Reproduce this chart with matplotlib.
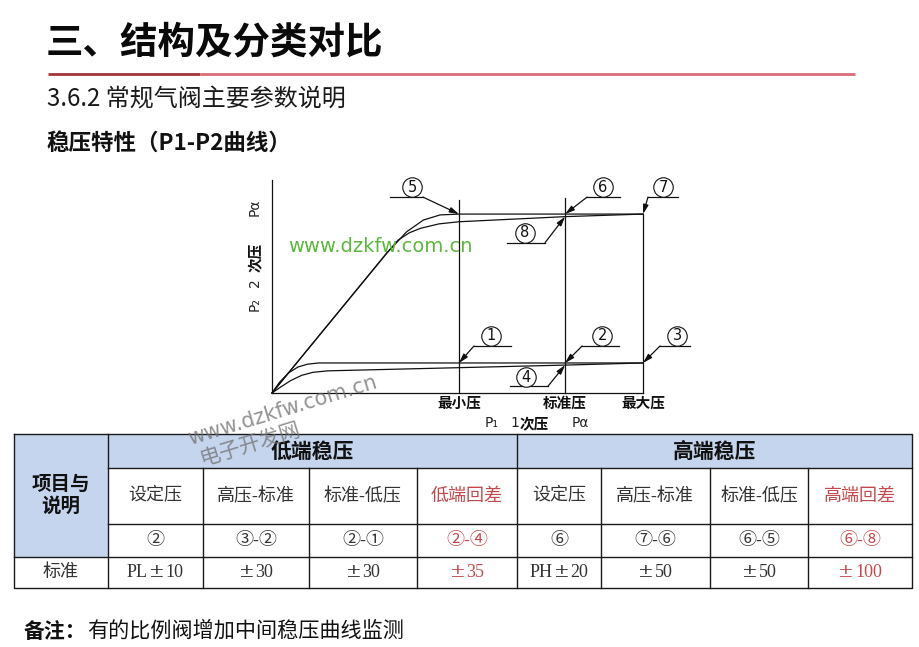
import matplotlib
matplotlib.use("Agg")
import matplotlib.pyplot as plt
from matplotlib.patches import Rectangle

plt.rcParams['font.family'] = ['Noto Sans CJK SC', 'DejaVu Sans']

# ---------------- data ----------------
title = "三、结构及分类对比"
subtitle = "3.6.2 常规气阀主要参数说明"
section = "稳压特性（P1-P2曲线）"
note_head = "备注："
note_body = "有的比例阀增加中间稳压曲线监测"

# P1 reference points (fraction of max P1)
p1_marks = [0.504, 0.790, 1.0]
p1_labels = ["最小压", "标准压", "最大压"]
v_line_top = [0.906, 0.915, 0.840]

# high-end regulation curves (P2 vs P1)
high_rise_x = [0, 0.309, 0.363, 0.408, 0.453, 0.504, 1.0]
high_rise_y = [0, 0.656, 0.757, 0.812, 0.836, 0.840, 0.840]
high_fall_x = [0, 0.309, 0.340, 0.370, 0.400, 0.450, 0.504, 0.790, 1.0]
high_fall_y = [0, 0.656, 0.718, 0.752, 0.773, 0.794, 0.804, 0.828, 0.840]

# low-end regulation curves
low_rise_x = [0, 0.020, 0.045, 0.070, 0.095, 0.125, 1.0]
low_rise_y = [0, 0.050, 0.095, 0.122, 0.135, 0.141, 0.141]
low_fall_x = [0, 0.025, 0.050, 0.080, 0.110, 0.150, 0.790, 1.0]
low_fall_y = [0, 0.030, 0.058, 0.083, 0.097, 0.104, 0.131, 0.141]

callout_ids = ["5", "6", "7", "8", "1", "2", "3", "4"]
callout_x = [0.504, 0.790, 1.0, 0.790, 0.504, 0.790, 1.0, 0.790]
callout_y = [0.840, 0.840, 0.840, 0.828, 0.141, 0.141, 0.141, 0.131]

# table
group_headers = ["低端稳压", "高端稳压"]
item_header = "项目与\n说明"
item_names = ["设定压", "高压-标准", "标准-低压", "低端回差",
              "设定压", "高压-标准", "标准-低压", "高端回差"]
item_refs = ["②", "③-②", "②-①", "②-④", "⑥", "⑦-⑥", "⑥-⑤", "⑥-⑧"]
row_label = "标准"
std_values = ["PL±10", "±30", "±30", "±35", "PH±20", "±50", "±50", "±100"]
red_cols = [3, 7]

# ---------------- layout ----------------
W, H = 920, 647
fig = plt.figure(figsize=(W / 100, H / 100), dpi=100)
bg = fig.add_axes([0, 0, 1, 1])
bg.set_xlim(0, W)
bg.set_ylim(H, 0)
bg.axis('off')
renderer = fig.canvas.get_renderer()

BLACK = '#111111'
RED = '#c4494d'
BLUE = '#c6d5ee'

# title + red rule
bg.text(46, 42, title, fontsize=27, fontweight='bold', va='center', ha='left', color='#0a0a0a')
bg.plot([48, 200], [74, 74], color='#a3333a', lw=2, solid_capstyle='butt')
bg.plot([200, 855], [74, 74], color='#d96c76', lw=2, solid_capstyle='butt')
bg.text(47, 100, subtitle, fontsize=17.3, va='center', ha='left', color='#1a1a1a')
bg.text(47, 143, section, fontsize=16.2, fontweight='bold', va='center', ha='left', color='#111111')

# note
bg.text(24, 631, note_head, fontsize=15, fontweight='bold', va='center', ha='left', color='#111111')
bg.text(87, 631, note_body, fontsize=15.2, va='center', ha='left', color='#111111')

# ---------------- diagram ----------------
AX_L, AX_T, AX_W, AX_H = 250, 170, 450, 260
ORIGIN_X, ORIGIN_Y = 272, 393
SX, SY = 371.0, 213.0
ax = fig.add_axes([AX_L / W, 1 - (AX_T + AX_H) / H, AX_W / W, AX_H / H])
ax.set_xlim((AX_L - ORIGIN_X) / SX, (AX_L + AX_W - ORIGIN_X) / SX)
ax.set_ylim((ORIGIN_Y - (AX_T + AX_H)) / SY, (ORIGIN_Y - AX_T) / SY)
ax.axis('off')
ax.patch.set_alpha(0)

def off(x, y, dx, dy):
    return x + dx / SX, y - dy / SY

lw = 0.9
ax.plot([0, 0], [0, 1.0], color=BLACK, lw=lw)
ax.plot([0, p1_marks[-1]], [0, 0], color=BLACK, lw=lw)
for xm, top in zip(p1_marks, v_line_top):
    ax.plot([xm, xm], [0, top], color=BLACK, lw=lw)
ax.plot(high_rise_x, high_rise_y, color=BLACK, lw=lw)
ax.plot(high_fall_x, high_fall_y, color=BLACK, lw=lw)
ax.plot(low_rise_x, low_rise_y, color=BLACK, lw=lw)
ax.plot(low_fall_x, low_fall_y, color=BLACK, lw=lw)

# callouts: knee offset (px), leader length (px, signed), circle offset from knee
callout_layout = {
    "5": (-36, -17, -33, -11, -10),
    "6": (22, -17, 33, 16, -10),
    "7": (5, -17, 30, 15, -10),
    "8": (-20, 26, -38, -20, -10),
    "1": (15, -17, 37, 17, -10),
    "2": (17, -17, 37, 20, -10),
    "3": (17, -17, 30, 17, -10),
    "4": (-17, 21, -38, -22, -9),
}
for cid, tx, ty in zip(callout_ids, callout_x, callout_y):
    kdx, kdy, llen, cdx, cdy = callout_layout[cid]
    kx, ky = off(tx, ty, kdx, kdy)
    ex, ey = off(kx, ky, llen, 0)
    cx, cy = off(kx, ky, cdx, cdy)
    ax.plot([kx, ex], [ky, ey], color=BLACK, lw=lw)
    ax.annotate('', xy=(tx, ty), xytext=(kx, ky),
                arrowprops=dict(arrowstyle='-|>,head_length=0.55,head_width=0.16',
                                color=BLACK, lw=lw, shrinkA=0, shrinkB=0))
    ax.plot([cx], [cy], marker='o', ms=14, mfc='white', mec=BLACK, mew=0.8,
            clip_on=False, zorder=4)
    ax.text(cx, cy, cid, fontsize=10.5, ha='center', va='center',
            family=['DejaVu Sans'], color=BLACK, zorder=5)

for xm, lab in zip(p1_marks, p1_labels):
    ax.text(xm, off(0, 0, 0, 10)[1], lab, fontsize=10.5, fontweight='bold',
            ha='center', va='center', color=BLACK)

# axis captions
cap_kw = dict(family=['DejaVu Sans', 'Noto Sans CJK SC'], color='#222222')
ax.text(*off(0, 0, 213, 30), "P₁", fontsize=10, ha='left', va='center', **cap_kw)
ax.text(*off(0, 0, 238, 30), "1", fontsize=10, ha='left', va='center', **cap_kw)
ax.text(*off(0, 0, 248, 30), "次压", fontsize=10.5, fontweight='bold', ha='left', va='center', color=BLACK)
ax.text(*off(0, 0, 300, 30), "Pα", fontsize=10, ha='left', va='center', **cap_kw)
ax.text(*off(0, 0, -17, -89), "P₂", fontsize=10, rotation=90, ha='center', va='center', **cap_kw)
ax.text(*off(0, 0, -17, -110), "2", fontsize=10, rotation=90, ha='center', va='center', **cap_kw)
ax.text(*off(0, 0, -17, -136), "次压", fontsize=10.5, rotation=90, fontweight='bold',
        ha='center', va='center', color=BLACK)
ax.text(*off(0, 0, -17, -186), "Pα", fontsize=10, rotation=90, ha='center', va='center', **cap_kw)

# ---------------- table ----------------
col_x = [14, 107.7, 202.7, 309.3, 416.7, 517.3, 600.7, 710, 808.3, 911.7]
row_y = [434.3, 468.3, 524, 556.7, 587.7]
tlw = 1.0
TC = '#1a1a1a'
bg.add_patch(Rectangle((col_x[1], row_y[0]), col_x[-1] - col_x[1], row_y[1] - row_y[0],
                       facecolor=BLUE, edgecolor='none'))
bg.add_patch(Rectangle((col_x[0], row_y[0]), col_x[1] - col_x[0], row_y[3] - row_y[0],
                       facecolor=BLUE, edgecolor='none'))
bg.plot([col_x[0], col_x[-1], col_x[-1], col_x[0], col_x[0]],
        [row_y[0], row_y[0], row_y[-1], row_y[-1], row_y[0]], color=TC, lw=tlw)
bg.plot([col_x[1], col_x[-1]], [row_y[1]] * 2, color=TC, lw=tlw)
bg.plot([col_x[1], col_x[-1]], [row_y[2]] * 2, color=TC, lw=tlw)
bg.plot([col_x[0], col_x[-1]], [row_y[3]] * 2, color=TC, lw=tlw)
bg.plot([col_x[1]] * 2, [row_y[0], row_y[-1]], color=TC, lw=tlw)
bg.plot([col_x[5]] * 2, [row_y[0], row_y[-1]], color=TC, lw=tlw)
for i in [2, 3, 4, 6, 7, 8]:
    bg.plot([col_x[i]] * 2, [row_y[1], row_y[-1]], color=TC, lw=tlw)

bg.text((col_x[1] + col_x[5]) / 2, (row_y[0] + row_y[1]) / 2, group_headers[0],
        fontsize=15, fontweight='bold', ha='center', va='center', color='#111111')
bg.text((col_x[5] + col_x[9]) / 2, (row_y[0] + row_y[1]) / 2, group_headers[1],
        fontsize=15, fontweight='bold', ha='center', va='center', color='#111111')
bg.text((col_x[0] + col_x[1]) / 2, (row_y[0] + row_y[3]) / 2, item_header,
        fontsize=14, fontweight='bold', ha='center', va='center', color='#111111',
        linespacing=1.15)
cell_font = ['Liberation Serif', 'Noto Sans CJK SC', 'DejaVu Sans']


def value_text(cx, cy, s, color):
    pre, _, post = s.partition('±')
    pieces = []
    if pre:
        pieces.append((pre, dict(fontsize=13, family=cell_font), 1))
    pieces.append(('±', dict(fontsize=13.5, family=['DejaVu Serif']), 1))
    pieces.append((post, dict(fontsize=13, family=cell_font), 0))
    made = []
    for txt, kw, gap in pieces:
        t = bg.text(0, cy, txt, ha='left', va='center', color=color, **kw)
        w = t.get_window_extent(renderer).width
        made.append((t, w + gap))
    total = sum(w for _, w in made)
    x = cx - total / 2
    for t, w in made:
        t.set_x(x)
        x += w


for i in range(8):
    cx = (col_x[i + 1] + col_x[i + 2]) / 2
    c = RED if i in red_cols else '#333333'
    bg.text(cx, (row_y[1] + row_y[2]) / 2, item_names[i], fontsize=13, ha='center',
            va='center', color=c, family=cell_font)
    bg.text(cx, (row_y[2] + row_y[3]) / 2, item_refs[i], fontsize=13, ha='center',
            va='center', color=c, family=cell_font)
    value_text(cx, (row_y[3] + row_y[4]) / 2, std_values[i], c)
bg.text((col_x[0] + col_x[1]) / 2, (row_y[3] + row_y[4]) / 2, row_label, fontsize=13,
        ha='center', va='center', color='#333333', family=cell_font)

# ---------------- watermarks ----------------
ov = fig.add_axes([0, 0, 1, 1], zorder=10)
ov.set_xlim(0, W)
ov.set_ylim(H, 0)
ov.axis('off')
ov.patch.set_alpha(0)
ov.text(288, 247, "www.dzkfw.com.cn", fontsize=14, color='#5cb83c', ha='left', va='center',
        family=['DejaVu Sans'])
ov.text(283, 410, "www.dzkfw.com.cn", fontsize=15, color='#6f6f6f', alpha=0.75,
        rotation=17, ha='center', va='center', family=['DejaVu Sans'])
ov.text(250, 444, "电子开发网", fontsize=15, color='#6f6f6f', alpha=0.75,
        rotation=17, ha='center', va='center')

fig.savefig("out.png", dpi=100)
